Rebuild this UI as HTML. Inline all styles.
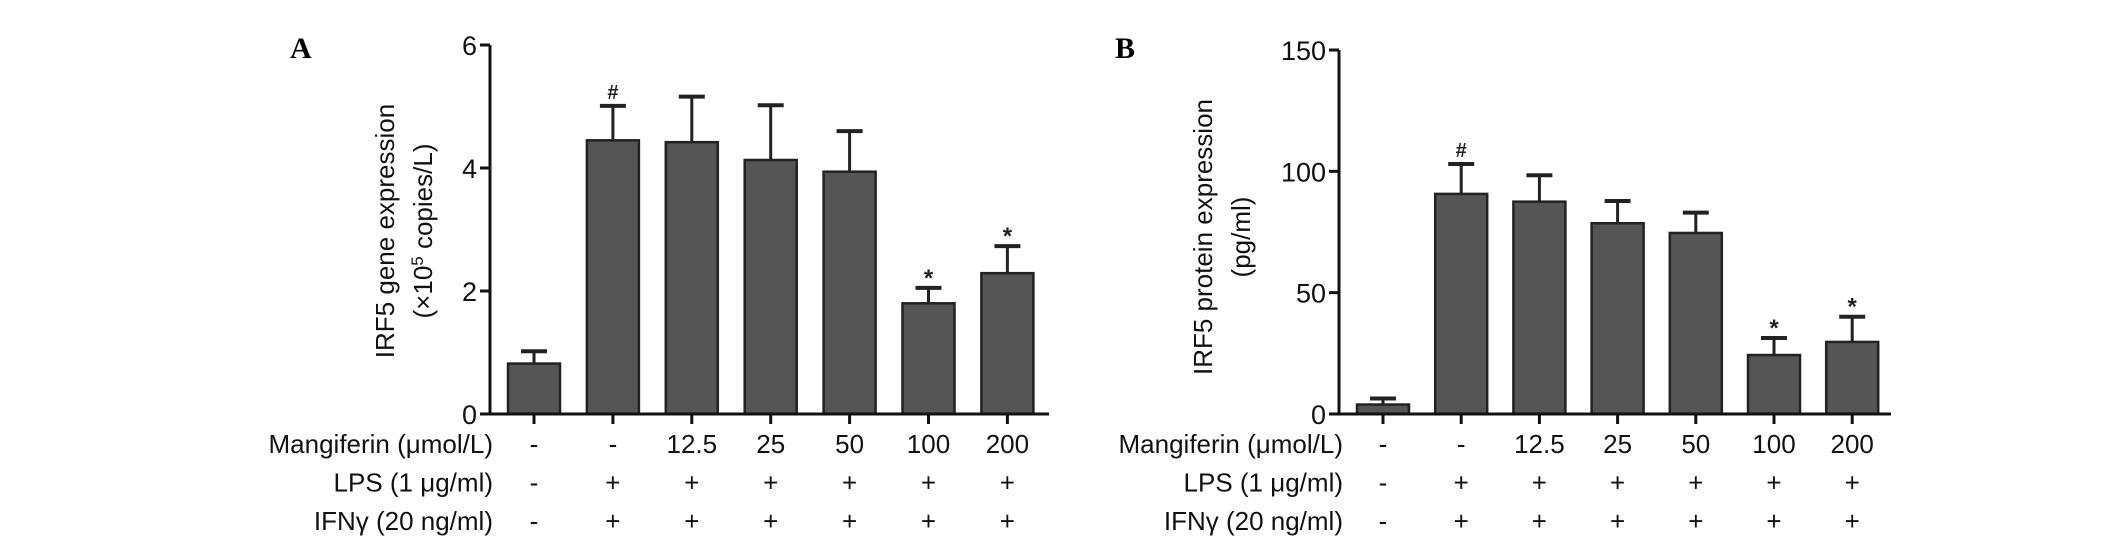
<!DOCTYPE html>
<html><head><meta charset="utf-8"><style>
html,body{margin:0;padding:0;background:#fff;width:2126px;height:551px;overflow:hidden}
svg{display:block;font-family:"Liberation Sans",Arial,sans-serif}
</style></head><body>
<svg id="chart" width="2126" height="551" viewBox="0 0 2126 551" xmlns="http://www.w3.org/2000/svg"></svg>
<script>
const groups = ["c1","c2","c3","c4","c5","c6","c7"];
const mangiferinLabels = ["-","-","12.5","25","50","100","200"];
const lpsLabels = ["-","+","+","+","+","+","+"];
const ifnLabels = ["-","+","+","+","+","+","+"];
const geneMeans = [0.82,4.45,4.42,4.13,3.94,1.80,2.29];
const geneErrTops = [1.02,5.01,5.16,5.02,4.60,2.05,2.73];
const geneMarks = ["","#","","","","*","*"];
const geneTicks = [0,2,4,6];
const proteinMeans = [3.9,90.7,87.5,78.6,74.6,24.3,29.7];
const proteinErrTops = [6.4,103,98.4,87.8,83,31.3,40.1];
const proteinMarks = ["","#","","","","*","*"];
const proteinTicks = [0,50,100,150];

const NS="http://www.w3.org/2000/svg";
const svg=document.getElementById('chart');
function mk(tag,attrs,parent){const e=document.createElementNS(NS,tag);for(const k in attrs)e.setAttribute(k,attrs[k]);(parent||svg).appendChild(e);return e;}
function txt(s,attrs,parent){const e=mk('text',attrs,parent);e.textContent=s;return e;}

function panel(cfg){
  const g=mk('g',{});
  
  
  const y=v=>cfg.y0-(v/cfg.max)*(cfg.y0-cfg.yTop);
  const x=i=>cfg.x0+cfg.step*i;
  const L=txt(cfg.letter,{x:cfg.letterX,y:58,'font-family':'"Liberation Serif",serif','font-weight':'bold','font-size':30},g);
  
  
  groups.forEach((c,i)=>{
    const cx=x(i),top=y(cfg.means[i]),et=y(cfg.errs[i]);
    const eb=mk('line',{x1:cx,x2:cx,y1:top,y2:et,stroke:'#222','stroke-width':3},g);
    
    
    mk('line',{x1:cx-13,x2:cx+13,y1:et,y2:et,stroke:'#222','stroke-width':4},g);
    const b=mk('rect',{x:cx-26,y:top,width:52,height:cfg.y0-top,fill:'#555',stroke:'#222','stroke-width':2.5},g);
    
    
    if(cfg.marks[i]){
      const m=txt(cfg.marks[i],{x:cx,y:et-(cfg.marks[i]=='#'?7:2),'text-anchor':'middle','font-size':cfg.marks[i]=='#'?20:24,'font-weight':'bold',fill:'#222'},g);
      
      
    }
    mk('line',{x1:cx,x2:cx,y1:cfg.y0,y2:cfg.y0+10,stroke:'#111','stroke-width':3},g);
    const rows=[mangiferinLabels,lpsLabels,ifnLabels];
    rows.forEach((r,j)=>{
      const t=txt(r[i],{x:cx,y:453+j*38.5,'text-anchor':'middle','font-size':26,fill:'#111'},g);
      
      
    });
  });
  const ya=mk('line',{x1:cfg.ax,x2:cfg.ax,y1:cfg.yTop,y2:cfg.y0+1.5,stroke:'#111','stroke-width':3},g);
  
  
  const xa=mk('line',{x1:cfg.ax-1.5,x2:cfg.axEnd,y1:cfg.y0,y2:cfg.y0,stroke:'#111','stroke-width':3},g);
  
  
  cfg.ticks.forEach(v=>{
    mk('line',{x1:cfg.ax-10,x2:cfg.ax,y1:y(v),y2:y(v),stroke:'#111','stroke-width':3},g);
    const t=txt(String(v),{x:cfg.ax-13,y:y(v)+10,'text-anchor':'end','font-size':27,fill:'#111'},g);
    
    
  });
  const tg=mk('g',{transform:`translate(${cfg.titleX},${cfg.titleY}) rotate(-90)`},g);
  
  
  txt(cfg.title1,{x:0,y:-9,'text-anchor':'middle','font-size':26,fill:'#111'},tg);
  const t2=mk('text',{x:0,y:29,'text-anchor':'middle','font-size':26,fill:'#111'},tg);
  t2.innerHTML=cfg.title2;
  ["Mangiferin (\u03bcmol/L)","LPS (1 \u03bcg/ml)","IFN\u03b3 (20 ng/ml)"].forEach((s,j)=>{
    const t=txt(s,{x:cfg.rowRight,y:453+j*38.5,'text-anchor':'end','font-size':26,fill:'#111'},g);
    
    
  });
}
panel({name:'panel-a-gene',letter:'A',letterX:290,x0:534,step:78.9,y0:414,yTop:45,max:6,ax:490,axEnd:1049,
  means:geneMeans,errs:geneErrTops,marks:geneMarks,ticks:geneTicks,titleX:403,titleY:231,
  title1:'IRF5 gene expression',title2:'(\u00d710<tspan dy="-9" font-size="17">5</tspan><tspan dy="9"> copies/L)</tspan>',rowRight:493});
panel({name:'panel-b-protein',letter:'B',letterX:1115,x0:1383,step:78.2,y0:414,yTop:50,max:150,ax:1339,axEnd:1891,
  means:proteinMeans,errs:proteinErrTops,marks:proteinMarks,ticks:proteinTicks,titleX:1221,titleY:237,
  title1:'IRF5 protein expression',title2:'(pg/ml)',rowRight:1343});
</script>
</body></html>
